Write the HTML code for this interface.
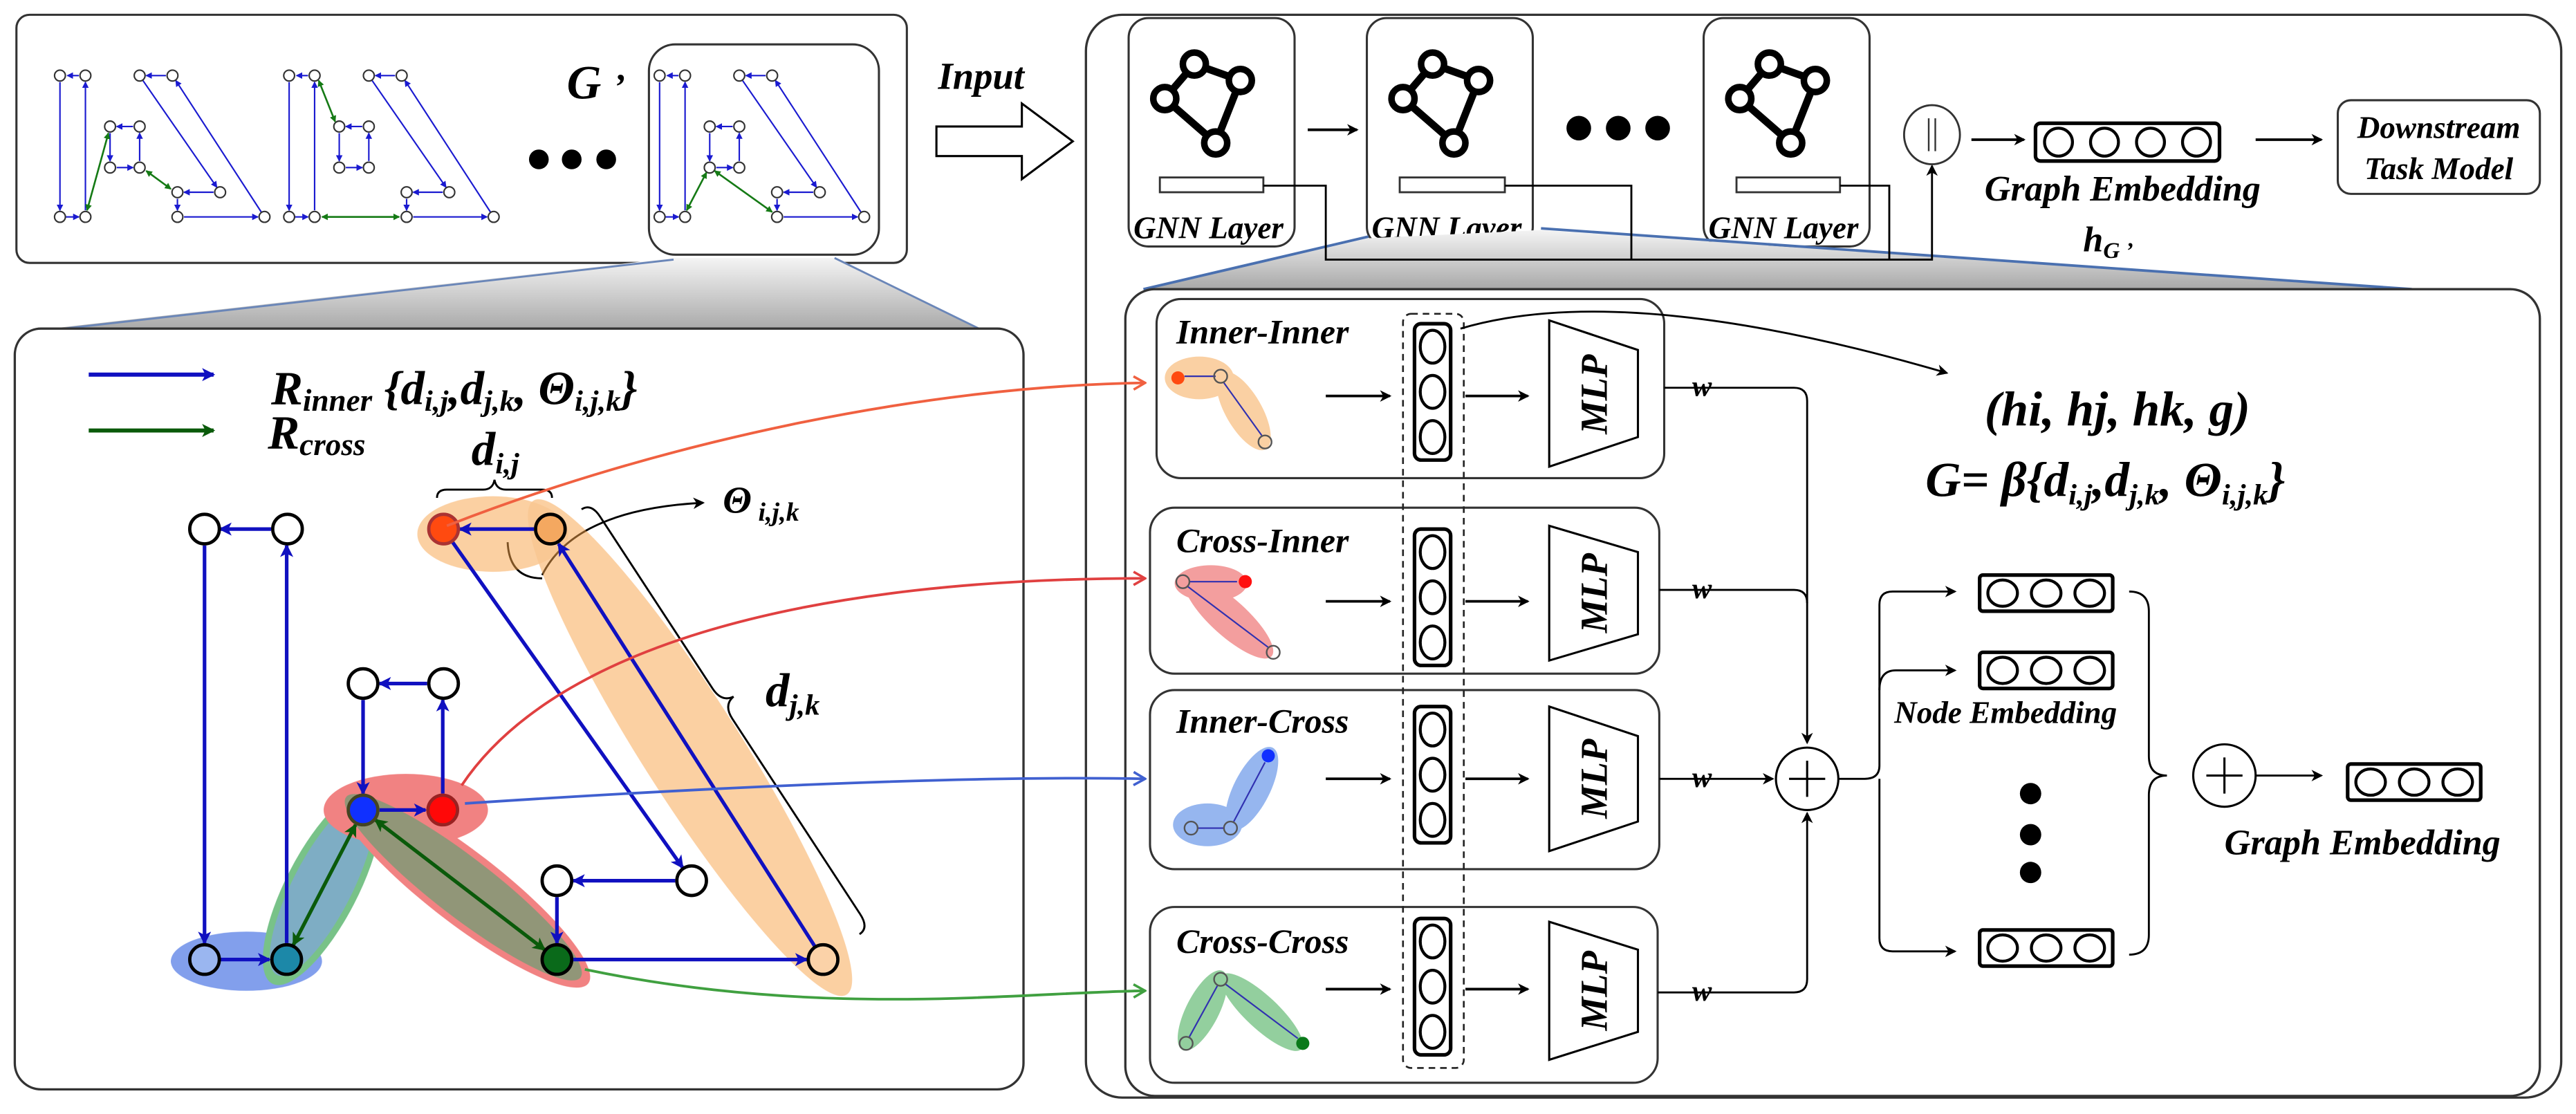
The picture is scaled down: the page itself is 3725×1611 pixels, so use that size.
<!DOCTYPE html>
<html><head><meta charset="utf-8"><style>
html,body{margin:0;padding:0;background:#fff;}
svg{display:block;font-family:"Liberation Serif","DejaVu Serif",serif;}
text{font-family:"Liberation Serif","DejaVu Serif",serif;font-weight:bold;font-style:italic;fill:#000;}
</style></head><body>
<svg width="3725" height="1611" viewBox="0 0 1568 678" preserveAspectRatio="none" xmlns="http://www.w3.org/2000/svg" font-family="Liberation Serif, serif" font-weight="bold" font-style="italic">
<defs>
<marker id="ab" markerWidth="8" markerHeight="8" refX="7" refY="4" orient="auto" markerUnits="userSpaceOnUse"><path d="M0,0 L8,4 L0,8 L2,4z" fill="#1010c0"/></marker>
<marker id="abs" markerWidth="4" markerHeight="4" refX="3.5" refY="2" orient="auto" markerUnits="userSpaceOnUse"><path d="M0,0 L4,2 L0,4z" fill="#1a1ad0"/></marker>
<marker id="ags" markerWidth="4" markerHeight="4" refX="3.5" refY="2" orient="auto-start-reverse" markerUnits="userSpaceOnUse"><path d="M0,0 L4,2 L0,4z" fill="#157a15"/></marker>
<marker id="ag" markerWidth="8" markerHeight="8" refX="7" refY="4" orient="auto-start-reverse" markerUnits="userSpaceOnUse"><path d="M0,0 L8,4 L0,8 L2,4z" fill="#0a5a0a"/></marker>
<marker id="ak" markerWidth="9" markerHeight="9" refX="8" refY="4.5" orient="auto" markerUnits="userSpaceOnUse"><path d="M0,0 L9,4.5 L0,9 L2.5,4.5z" fill="#000"/></marker>
<marker id="aks" markerWidth="7" markerHeight="7" refX="6" refY="3.5" orient="auto" markerUnits="userSpaceOnUse"><path d="M0,0 L7,3.5 L0,7 L2,3.5z" fill="#000"/></marker>
<marker id="ao" markerWidth="9" markerHeight="10" refX="8" refY="5" orient="auto" markerUnits="userSpaceOnUse"><path d="M1,1 L8,5 L1,9" fill="none" stroke="#f06040" stroke-width="1.5"/></marker>
<marker id="ar" markerWidth="9" markerHeight="10" refX="8" refY="5" orient="auto" markerUnits="userSpaceOnUse"><path d="M1,1 L8,5 L1,9" fill="none" stroke="#e04040" stroke-width="1.5"/></marker>
<marker id="abl" markerWidth="9" markerHeight="10" refX="8" refY="5" orient="auto" markerUnits="userSpaceOnUse"><path d="M1,1 L8,5 L1,9" fill="none" stroke="#4060d0" stroke-width="1.5"/></marker>
<marker id="agr" markerWidth="9" markerHeight="10" refX="8" refY="5" orient="auto" markerUnits="userSpaceOnUse"><path d="M1,1 L8,5 L1,9" fill="none" stroke="#40a040" stroke-width="1.5"/></marker>
<linearGradient id="gw" x1="0" y1="0" x2="0" y2="1"><stop offset="0" stop-color="#f4f4f4"/><stop offset="1" stop-color="#a8a8a8"/></linearGradient>
<g id="sg">
 <g stroke="#1a1ad0" stroke-width="0.9" fill="none" marker-end="url(#abs)">
  <line x1="48" y1="46" x2="41" y2="46"/><line x1="36.5" y1="50" x2="36.5" y2="128"/>
  <line x1="52" y1="128" x2="52" y2="50"/><line x1="40" y1="132" x2="48" y2="132"/>
  <line x1="81" y1="77" x2="71" y2="77"/><line x1="67" y1="81" x2="67" y2="98"/>
  <line x1="85" y1="98" x2="85" y2="81"/><line x1="71" y1="102" x2="81" y2="102"/>
  <line x1="101" y1="46" x2="89" y2="46"/><line x1="87" y1="49" x2="132" y2="114"/>
  <line x1="159" y1="129" x2="107" y2="49"/><line x1="130" y1="117" x2="112" y2="117"/>
  <line x1="108" y1="121" x2="108" y2="128"/><line x1="112" y1="132" x2="157" y2="132"/>
 </g>
 <g fill="#fff" stroke="#333" stroke-width="0.9">
  <circle cx="36.5" cy="46" r="3.3"/><circle cx="52" cy="46" r="3.3"/><circle cx="36.5" cy="132" r="3.3"/><circle cx="52" cy="132" r="3.3"/>
  <circle cx="67" cy="77" r="3.3"/><circle cx="85" cy="77" r="3.3"/><circle cx="67" cy="102" r="3.3"/><circle cx="85" cy="102" r="3.3"/>
  <circle cx="85" cy="46" r="3.3"/><circle cx="105" cy="46" r="3.3"/><circle cx="108" cy="117" r="3.3"/><circle cx="134" cy="117" r="3.3"/>
  <circle cx="108" cy="132" r="3.3"/><circle cx="161" cy="132" r="3.3"/>
 </g>
</g>
<g id="gi">
 <g stroke="#000" stroke-width="4.5" fill="none"><polyline points="-26,13 -8,-8 20,2 5,40 -26,13"/></g>
 <g fill="#fff" stroke="#000" stroke-width="4"><circle cx="-8" cy="-8" r="7"/><circle cx="20" cy="2" r="7"/><circle cx="-26" cy="13" r="7"/><circle cx="5" cy="40" r="7"/></g>
</g>
<g id="vec"><rect x="0" y="0" width="22" height="83" rx="4" fill="#fff" stroke="#000" stroke-width="2.2"/>
 <ellipse cx="11" cy="14" rx="7.5" ry="10" fill="none" stroke="#000" stroke-width="1.8"/>
 <ellipse cx="11" cy="41.5" rx="7.5" ry="10" fill="none" stroke="#000" stroke-width="1.8"/>
 <ellipse cx="11" cy="69" rx="7.5" ry="10" fill="none" stroke="#000" stroke-width="1.8"/></g>
<g id="emb3"><rect x="0" y="0" width="81" height="22" rx="2" fill="#fff" stroke="#000" stroke-width="2.2"/>
 <ellipse cx="14" cy="11" rx="9" ry="8" fill="none" stroke="#000" stroke-width="1.8"/>
 <ellipse cx="40.5" cy="11" rx="9" ry="8" fill="none" stroke="#000" stroke-width="1.8"/>
 <ellipse cx="67" cy="11" rx="9" ry="8" fill="none" stroke="#000" stroke-width="1.8"/></g>
</defs>

<!-- top-left panel -->
<rect x="10" y="9" width="542" height="151" rx="8" fill="#fff" stroke="#333" stroke-width="1.3"/>
<rect x="395" y="27" width="140" height="128" rx="16" fill="#fff" stroke="#333" stroke-width="1.3"/>
<use href="#sg"/>
<use href="#sg" transform="translate(139.5,0)"/>
<use href="#sg" transform="translate(365,0)"/>
<g stroke="#157a15" stroke-width="1.1" marker-start="url(#ags)" marker-end="url(#ags)">
 <line x1="53" y1="128" x2="66" y2="81"/><line x1="89" y1="104" x2="104" y2="115"/>
 <line x1="194" y1="49" x2="204" y2="74"/><line x1="196" y1="132" x2="243" y2="132"/>
 <line x1="418" y1="128" x2="430" y2="105"/><line x1="435" y1="104" x2="470" y2="129"/>
</g>
<circle cx="328" cy="97" r="6" fill="#000"/><circle cx="348" cy="97" r="6" fill="#000"/><circle cx="369" cy="97" r="6" fill="#000"/>
<text x="345" y="60" font-size="29">G <tspan font-size="22">’</tspan></text>
<text x="571" y="54" font-size="23">Input</text>
<path d="M570,77 H622 V63 L653,86 L622,109 V95 H570 Z" fill="#fff" stroke="#000" stroke-width="1.3"/>

<!-- wedge left -->
<path d="M410,157 L508,157 L598,201 L22,201 Z" fill="url(#gw)"/>
<line x1="508" y1="157" x2="598" y2="201" stroke="#6a86b8" stroke-width="1.2"/>
<line x1="410" y1="158" x2="30" y2="201" stroke="#6a86b8" stroke-width="1.2"/>

<!-- bottom-left panel -->
<rect x="9" y="200" width="614" height="463" rx="16" fill="#fff" stroke="#333" stroke-width="1.4"/>
<line x1="54" y1="228" x2="130" y2="228" stroke="#1010c0" stroke-width="2.5" marker-end="url(#ab)"/>
<line x1="54" y1="262" x2="130" y2="262" stroke="#0a5a0a" stroke-width="2.5" marker-end="url(#ag)"/>
<text x="165" y="246" font-size="29">R<tspan font-size="19" dy="4">inner</tspan><tspan dy="-4"> {d</tspan><tspan font-size="18" dy="4">i,j</tspan><tspan dy="-4">,d</tspan><tspan font-size="18" dy="4">j,k</tspan><tspan dy="-4">,  Θ</tspan><tspan font-size="18" dy="4">i,j,k</tspan><tspan dy="-4">}</tspan></text>
<text x="163" y="273" font-size="29">R<tspan font-size="19" dy="4">cross</tspan></text>
<text x="287" y="283" font-size="29">d<tspan font-size="18" dy="5">i,j</tspan></text>
<text x="440" y="312" font-size="23">Θ<tspan font-size="16" dy="5"> i,j,k</tspan></text>
<text x="466" y="430" font-size="29">d<tspan font-size="18" dy="5">j,k</tspan></text>
<path d="M266,303 q0,-5 6,-5 h22 q6,0 7,-6 q1,6 7,6 h22 q6,0 6,5" fill="none" stroke="#000" stroke-width="1.2"/>
<g transform="translate(354,310) rotate(56.8)"><path d="M0,0 q0,-7 10,-7 h125 q10,0 11,-8 q1,8 11,8 h142 q10,0 10,7" fill="none" stroke="#000" stroke-width="1.2"/></g>
<path d="M330,352 Q310,352 309,330" fill="none" stroke="#000" stroke-width="1.2"/>
<path d="M330,350 Q350,310 428,306" fill="none" stroke="#000" stroke-width="1.2" marker-end="url(#aks)"/>

<!-- ellipses -->
<g opacity="0.6">
 <ellipse cx="300" cy="325" rx="46" ry="23" fill="#f7a24a" opacity="0.85"/>
 <ellipse cx="420" cy="455" rx="178" ry="30" fill="#f7a24a" opacity="0.85" transform="rotate(57.6 420 455)"/>
 <ellipse cx="150" cy="585" rx="46" ry="18" fill="#3060e0"/>
 <ellipse cx="196" cy="540" rx="66" ry="22" fill="#1f9a3a" transform="rotate(-62.7 196 540)"/>
 <ellipse cx="196" cy="540" rx="60" ry="18" fill="#3060e0" opacity="0.6" transform="rotate(-62.7 196 540)"/>
 <ellipse cx="247" cy="493" rx="50" ry="22" fill="#e83030"/>
 <ellipse cx="282" cy="540" rx="96" ry="22" fill="#e83030" transform="rotate(37.6 282 540)"/>
 <ellipse cx="282" cy="540" rx="90" ry="18" fill="#1f5a1a" opacity="0.8" transform="rotate(37.6 282 540)"/>
</g>

<!-- edges -->
<g stroke="#1010c0" stroke-width="2.2" fill="none" marker-end="url(#ab)">
 <line x1="165" y1="322" x2="134" y2="322"/><line x1="124.5" y1="332" x2="124.5" y2="574"/>
 <line x1="174.5" y1="574" x2="174.5" y2="332"/><line x1="134" y1="584" x2="164" y2="584"/>
 <line x1="260" y1="416" x2="231" y2="416"/><line x1="221" y1="426" x2="221" y2="483"/>
 <line x1="269.5" y1="483" x2="269.5" y2="426"/><line x1="231" y1="493" x2="259" y2="493"/>
 <line x1="325" y1="322" x2="280" y2="322"/><line x1="275.5" y1="330" x2="415.5" y2="528"/>
 <line x1="496" y1="576" x2="340" y2="331"/><line x1="411" y1="536" x2="349" y2="536"/>
 <line x1="339" y1="546" x2="339" y2="574"/><line x1="349" y1="584" x2="491" y2="584"/>
</g>
<g stroke="#0a5a0a" stroke-width="2.2" marker-start="url(#ag)" marker-end="url(#ag)">
 <line x1="216.4" y1="502" x2="178.6" y2="575"/><line x1="228.5" y1="499" x2="331.5" y2="578"/>
</g>
<!-- nodes -->
<g stroke="#000" stroke-width="2">
 <circle cx="124.5" cy="322" r="9" fill="#fff"/><circle cx="175" cy="322" r="9" fill="#fff"/>
 <circle cx="124.5" cy="584" r="9" fill="#9ab6f0"/><circle cx="174.5" cy="584" r="9" fill="#1c88a8"/>
 <circle cx="221" cy="416" r="9" fill="#fff"/><circle cx="270" cy="416" r="9" fill="#fff"/>
 <circle cx="221" cy="493" r="9" fill="#1030ff" stroke="#442"/><circle cx="269.5" cy="493" r="9" fill="#ff0808" stroke="#922"/>
 <circle cx="270" cy="322" r="9" fill="#ff4a10" stroke="#a33"/><circle cx="335" cy="322" r="9" fill="#f4a860"/>
 <circle cx="339" cy="536" r="9" fill="#fff"/><circle cx="421" cy="536" r="9" fill="#fff"/>
 <circle cx="339" cy="584" r="9" fill="#0a6a1a"/><circle cx="501" cy="584" r="9" fill="#fbd2a8"/>
</g>

<!-- right outer panel -->
<rect x="661" y="9" width="898" height="659" rx="22" fill="#fff" stroke="#333" stroke-width="1.4"/>
<rect x="687" y="11" width="101" height="139" rx="12" fill="#fff" stroke="#333" stroke-width="1.3"/>
<rect x="832" y="11" width="101" height="139" rx="12" fill="#fff" stroke="#333" stroke-width="1.3"/>
<rect x="1037" y="11" width="101" height="139" rx="12" fill="#fff" stroke="#333" stroke-width="1.3"/>
<use href="#gi" transform="translate(735,47)"/>
<use href="#gi" transform="translate(880,47)"/>
<use href="#gi" transform="translate(1085,47)"/>
<rect x="706" y="108" width="63" height="9" fill="#fff" stroke="#333" stroke-width="1.2"/>
<rect x="852" y="108" width="64" height="9" fill="#fff" stroke="#333" stroke-width="1.2"/>
<rect x="1057" y="108" width="63" height="9" fill="#fff" stroke="#333" stroke-width="1.2"/>
<text x="690" y="145" font-size="19">GNN Layer</text>
<text x="835" y="145" font-size="19">GNN Layer</text>
<text x="1040" y="145" font-size="19">GNN Layer</text>
<line x1="796" y1="79" x2="826" y2="79" stroke="#000" stroke-width="1.6" marker-end="url(#aks)"/>
<circle cx="961" cy="78" r="7.5" fill="#000"/><circle cx="985" cy="78" r="7.5" fill="#000"/><circle cx="1009" cy="78" r="7.5" fill="#000"/>
<!-- wedge right -->
<path d="M833,145 L938,140 L1468,176 L696,176 Z" fill="url(#gw)"/>
<line x1="833" y1="144" x2="696" y2="176" stroke="#4a70b0" stroke-width="1.6"/>
<line x1="938" y1="139" x2="1468" y2="176" stroke="#4a70b0" stroke-width="1.6"/>
<polyline points="769,113 807,113 807,158 1176,158 1176,101" fill="none" stroke="#000" stroke-width="1.2" marker-end="url(#aks)"/>
<polyline points="916,113 993,113 993,158" fill="none" stroke="#000" stroke-width="1.2"/>
<polyline points="1120,113 1150,113 1150,158" fill="none" stroke="#000" stroke-width="1.2"/>
<ellipse cx="1176" cy="82" rx="17" ry="18" fill="#fff" stroke="#333" stroke-width="1.2"/>
<line x1="1174" y1="72" x2="1174" y2="92" stroke="#333" stroke-width="1"/><line x1="1178" y1="72" x2="1178" y2="92" stroke="#333" stroke-width="1"/>
<line x1="1200" y1="85" x2="1232" y2="85" stroke="#000" stroke-width="1.6" marker-end="url(#aks)"/>
<rect x="1239" y="75" width="112" height="23" rx="3" fill="#fff" stroke="#000" stroke-width="2.2"/>
<ellipse cx="1253" cy="86.5" rx="8.5" ry="8.5" fill="none" stroke="#000" stroke-width="1.8"/>
<ellipse cx="1281" cy="86.5" rx="8.5" ry="8.5" fill="none" stroke="#000" stroke-width="1.8"/>
<ellipse cx="1309" cy="86.5" rx="8.5" ry="8.5" fill="none" stroke="#000" stroke-width="1.8"/>
<ellipse cx="1337" cy="86.5" rx="8.5" ry="8.5" fill="none" stroke="#000" stroke-width="1.8"/>
<text x="1208" y="122" font-size="22">Graph Embedding</text>
<text x="1268" y="153" font-size="22">h<tspan font-size="14" dy="4">G ’</tspan></text>
<line x1="1373" y1="85" x2="1413" y2="85" stroke="#000" stroke-width="1.6" marker-end="url(#aks)"/>
<rect x="1423" y="61" width="123" height="57" rx="8" fill="#fff" stroke="#333" stroke-width="1.3"/>
<text x="1484.5" y="84" font-size="19" text-anchor="middle">Downstream</text>
<text x="1484.5" y="109" font-size="19" text-anchor="middle">Task Model</text>

<!-- inner panel -->
<rect x="685" y="176" width="861" height="491" rx="18" fill="#fff" stroke="#333" stroke-width="1.4"/>
<rect x="704" y="182" width="309" height="109" rx="15" fill="#fff" stroke="#333" stroke-width="1.3"/>
<rect x="700" y="309" width="310" height="101" rx="15" fill="#fff" stroke="#333" stroke-width="1.3"/>
<rect x="700" y="420" width="310" height="109" rx="15" fill="#fff" stroke="#333" stroke-width="1.3"/>
<rect x="700" y="552" width="309" height="107" rx="15" fill="#fff" stroke="#333" stroke-width="1.3"/>
<text x="716" y="209" font-size="21">Inner-Inner</text>
<text x="716" y="336" font-size="21">Cross-Inner</text>
<text x="716" y="446" font-size="21">Inner-Cross</text>
<text x="716" y="580" font-size="21">Cross-Cross</text>
<!-- mini graphs -->
<g opacity="0.5">
 <ellipse cx="730" cy="230" rx="21" ry="13" fill="#f7a24a"/>
 <ellipse cx="757" cy="250" rx="27" ry="11" fill="#f7a24a" transform="rotate(60 757 250)"/>
 <ellipse cx="737" cy="355" rx="22" ry="11" fill="#e84040"/>
 <ellipse cx="748" cy="376" rx="35" ry="11" fill="#e84040" transform="rotate(42 748 376)"/>
 <ellipse cx="735" cy="502" rx="21" ry="13" fill="#3070e0"/>
 <ellipse cx="762" cy="480" rx="28" ry="11" fill="#3070e0" transform="rotate(-63 762 480)"/>
 <ellipse cx="732" cy="615" rx="27" ry="10" fill="#2aa040" transform="rotate(-63 732 615)"/>
 <ellipse cx="768" cy="616" rx="33" ry="10" fill="#2aa040" transform="rotate(43 768 616)"/>
</g>
<g stroke="#3030b0" stroke-width="0.9" fill="none">
 <line x1="740" y1="229" x2="721" y2="229"/><line x1="768" y1="265" x2="745" y2="233"/>
 <line x1="724" y1="354" x2="753" y2="354"/><line x1="723" y1="357" x2="772" y2="394"/>
 <line x1="729" y1="504" x2="745" y2="504"/><line x1="751" y1="500" x2="770" y2="464"/>
 <line x1="741" y1="600" x2="724" y2="631"/><line x1="746" y1="599" x2="790" y2="632"/>
</g>
<g stroke="#555" stroke-width="1" fill="#fff">
 <circle cx="717" cy="230" r="4" fill="#ff4a10" stroke="none"/><circle cx="743" cy="229" r="4" fill="none"/><circle cx="770" cy="269" r="4" fill="none"/>
 <circle cx="720" cy="354" r="4" fill="none"/><circle cx="758" cy="354" r="4" fill="#ff1010" stroke="none"/><circle cx="775" cy="397" r="4" fill="none"/>
 <circle cx="725" cy="504" r="4" fill="none"/><circle cx="749" cy="504" r="4" fill="none"/><circle cx="772" cy="460" r="4" fill="#1030ff" stroke="none"/>
 <circle cx="743" cy="596" r="4" fill="none"/><circle cx="722" cy="635" r="4" fill="none"/><circle cx="793" cy="635" r="4" fill="#0a7a1a" stroke="none"/>
</g>
<!-- arrows into vecs -->
<g stroke="#000" stroke-width="1.6" marker-end="url(#aks)">
 <line x1="807" y1="241" x2="846" y2="241"/><line x1="807" y1="366" x2="846" y2="366"/>
 <line x1="807" y1="474" x2="846" y2="474"/><line x1="807" y1="602" x2="846" y2="602"/>
 <line x1="892" y1="241" x2="930" y2="241"/><line x1="892" y1="366" x2="930" y2="366"/>
 <line x1="892" y1="474" x2="930" y2="474"/><line x1="892" y1="602" x2="930" y2="602"/>
</g>
<rect x="854" y="191" width="37" height="459" rx="5" fill="none" stroke="#222" stroke-width="1.1" stroke-dasharray="4,3"/>
<use href="#vec" transform="translate(861,197)"/>
<use href="#vec" transform="translate(861,322)"/>
<use href="#vec" transform="translate(861,430)"/>
<use href="#vec" transform="translate(861,559)"/>
<!-- MLPs -->
<g fill="#fff" stroke="#000" stroke-width="1.3">
 <polygon points="943,195 997,213 997,266 943,284"/>
 <polygon points="943,320 997,336 997,386 943,402"/>
 <polygon points="943,430 997,448 997,500 943,518"/>
 <polygon points="943,561 997,578 997,628 943,645"/>
</g>
<text font-size="23" transform="translate(978,240) rotate(-90)" text-anchor="middle">MLP</text>
<text font-size="23" transform="translate(978,361) rotate(-90)" text-anchor="middle">MLP</text>
<text font-size="23" transform="translate(978,474) rotate(-90)" text-anchor="middle">MLP</text>
<text font-size="23" transform="translate(978,603) rotate(-90)" text-anchor="middle">MLP</text>
<!-- w lines -->
<g fill="none" stroke="#000" stroke-width="1.2">
 <path d="M1013,236 H1092 Q1100,236 1100,244 V452" marker-end="url(#aks)"/>
 <path d="M1010,359 H1092 Q1100,359 1100,367"/>
 <path d="M1010,474 H1079" marker-end="url(#aks)"/>
 <path d="M1009,604 H1092 Q1100,604 1100,596 V495" marker-end="url(#aks)"/>
 <path d="M1119,474 H1135 Q1144,474 1144,466 V368 Q1144,360 1152,360 H1190" marker-end="url(#aks)"/>
 <path d="M1144,420 Q1144,408 1154,408 H1190" marker-end="url(#aks)"/>
 <path d="M1144,474 V571 Q1144,579 1152,579 H1190" marker-end="url(#aks)"/>
 <path d="M1296,360 Q1308,360 1308,372 V460 Q1308,472 1319,472 Q1308,472 1308,484 V569 Q1308,581 1296,581"/>
 <line x1="1373" y1="472" x2="1413" y2="472" marker-end="url(#aks)"/>
 <path d="M889,200 Q990,170 1185,227" marker-end="url(#aks)"/>
</g>
<g font-size="18"><text x="1030" y="241">w</text><text x="1030" y="364">w</text><text x="1030" y="479">w</text><text x="1030" y="609">w</text></g>
<circle cx="1100" cy="474" r="19" fill="#fff" stroke="#000" stroke-width="1.3"/>
<path d="M1089,474 H1111 M1100,463 V485" stroke="#000" stroke-width="1.3"/>
<circle cx="1354" cy="472" r="19" fill="#fff" stroke="#000" stroke-width="1.3"/>
<path d="M1343,472 H1365 M1354,461 V483" stroke="#000" stroke-width="1.3"/>
<use href="#emb3" transform="translate(1205,350)"/>
<use href="#emb3" transform="translate(1205,397)"/>
<use href="#emb3" transform="translate(1205,566)"/>
<use href="#emb3" transform="translate(1429,465)"/>
<circle cx="1236" cy="483" r="6.5" fill="#000"/><circle cx="1236" cy="508" r="6.5" fill="#000"/><circle cx="1236" cy="531" r="6.5" fill="#000"/>
<text x="1153" y="440" font-size="19">Node Embedding</text>
<text x="1354" y="520" font-size="22">Graph Embedding</text>
<text x="1208" y="259" font-size="30">(hi, hj, hk, g)</text>
<text x="1172" y="302" font-size="30">G= β{d<tspan font-size="18" dy="5">i,j</tspan><tspan dy="-5">,d</tspan><tspan font-size="18" dy="5">j,k</tspan><tspan dy="-5">,  Θ</tspan><tspan font-size="18" dy="5">i,j,k</tspan><tspan dy="-5">}</tspan></text>

<!-- colored long curves (on top) -->
<path d="M272,320 C400,270 560,235 697,233" fill="none" stroke="#f06040" stroke-width="1.6" marker-end="url(#ao)"/>
<path d="M281,478 C340,390 500,352 697,352" fill="none" stroke="#e04040" stroke-width="1.6" marker-end="url(#ar)"/>
<path d="M283,489 C450,478 600,472 697,474" fill="none" stroke="#4060d0" stroke-width="1.6" marker-end="url(#abl)"/>
<path d="M356,590 C500,620 620,604 697,603" fill="none" stroke="#40a040" stroke-width="1.6" marker-end="url(#agr)"/>
</svg>
</body></html>
